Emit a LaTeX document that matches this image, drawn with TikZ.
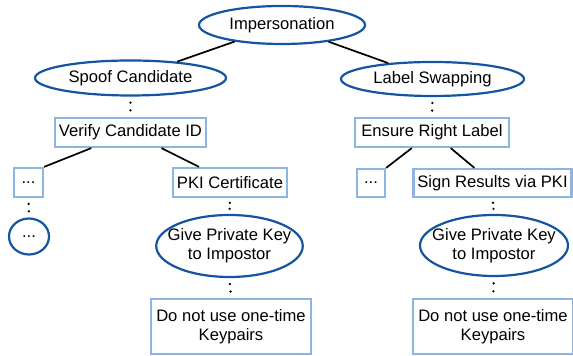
\documentclass[tikz,border=0pt]{standalone}
\usepackage{fontspec}
\setmainfont{Liberation Sans}
\usepackage{tikz}
\usetikzlibrary{shapes.geometric}
\definecolor{goalblue}{RGB}{20,84,160}
\definecolor{boxblue}{RGB}{141,180,226}

\begin{document}
\begin{tikzpicture}[x=0.5pt, y=-0.5pt,
  every node/.style={font=\fontsize{8.3pt}{9.4pt}\selectfont, inner sep=0pt},
  goal/.style={ellipse, draw=goalblue, line width=1.1pt, align=center},
  box/.style={rectangle, draw=boxblue, line width=1.1pt, align=center, minimum height=14.5pt},
  dot/.style={circle, fill=black, minimum size=1.3pt},
  link/.style={line width=0.85pt}]
  \useasboundingbox (0,0) rectangle (573,356);
  \node[goal, minimum width=83pt, minimum height=19pt] (imp) at (282,25) {Impersonation};
  \node[goal, minimum width=95.5pt, minimum height=17.5pt] (spoof) at (130.5,78) {Spoof Candidate};
  \node[goal, minimum width=91.5pt, minimum height=17pt] (label) at (432.5,79) {Label Swapping};
  \node[box, minimum width=75.5pt] (verify) at (130.5,132.5) {Verify Candidate ID};
  \node[box, minimum width=77pt] (ensure) at (432,132.5) {Ensure Right Label};
  \node[box, minimum width=14.5pt] (dotsl) at (28.5,182.5) {...};
  \node[box, minimum width=57pt] (pki) at (230,182.5) {PKI Certificate};
  \node[box, minimum width=14pt, minimum height=14pt] (dotsr) at (371,183) {...};
  \node[box, minimum width=79pt, minimum height=14pt] (sign) at (492.5,183) {Sign Results via PKI};
  \node[goal, minimum width=20pt, minimum height=18pt] (circ) at (29,236.5) {...};
  \node[goal, minimum width=73pt, minimum height=31pt, inner xsep=-5pt] (keyl) at (229.5,246) {Give Private Key\\to Impostor};
  \node[goal, minimum width=74pt, minimum height=30.5pt, inner xsep=-5pt] (keyr) at (494,245.5) {Give Private Key\\to Impostor};
  \node[box, minimum width=80pt, minimum height=27.5pt] (notl) at (231,326.5) {Do not use one-time\\Keypairs};
  \node[box, minimum width=80pt, minimum height=27.5pt] (notr) at (493,326.5) {Do not use one-time\\Keypairs};

  \draw[link] (imp) -- (spoof);
  \draw[link] (imp) -- (label);
  \draw[link] (verify) -- (dotsl.north east);
  \draw[link] (verify) -- (pki);
  \draw[link] (ensure) -- (dotsr.north east);
  \draw[link] (ensure) -- (sign);
  \foreach \a/\b in {spoof/verify, label/ensure, dotsl/circ, pki/keyl, keyl/notl, sign/keyr, keyr/notr}
    \path (\a.south) -- (\b.north) node[dot, pos=0.3] {} node[dot, pos=0.68] {};
\end{tikzpicture}
\end{document}
